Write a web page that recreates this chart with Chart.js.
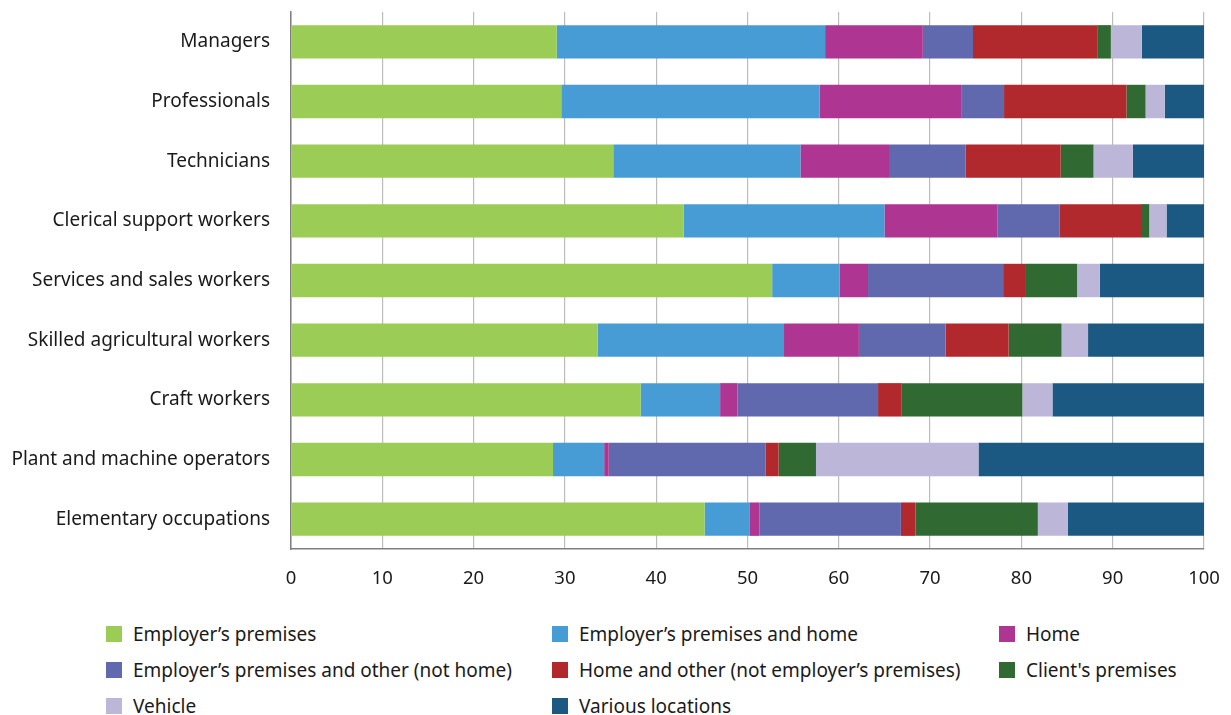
<!DOCTYPE html>
<html>
<head>
<meta charset="utf-8">
<script src="https://cdn.jsdelivr.net/npm/chart.js@4"></script>
<style>
    body { margin: 0; background: #fff; font-family: 'Noto Sans', sans-serif; }
    #wrap { position: relative; width: 1231px; height: 715px; }
    #chart-box { position: absolute; left: 0; top: 0; width: 1231px; height: 600px; }
    .legend-item { position: absolute; font-size: 19px; color: #1a1a1a; white-space: nowrap; line-height: 22px; }
    .legend-item span.box { position: absolute; left: 0; top: 3px; width: 16px; height: 16px; }
    .legend-item span.txt { position: absolute; left: 27px; top: 0; }
</style>
</head>
<body>
<div id="wrap">
    <div id="chart-box"><canvas id="work-location"></canvas></div>
    <div id="legend"></div>
</div>
<script>
const occupations = ['Managers', 'Professionals', 'Technicians', 'Clerical support workers',
    'Services and sales workers', 'Skilled agricultural workers', 'Craft workers',
    'Plant and machine operators', 'Elementary occupations'];

const seriesNames = ['Employer\u2019s premises', 'Employer\u2019s premises and home', 'Home',
    'Employer\u2019s premises and other (not home)', 'Home and other (not employer\u2019s premises)',
    "Client's premises", 'Vehicle', 'Various locations'];

const employersPremises = [29.1, 29.6, 35.3, 43.0, 52.7, 33.6, 38.3, 28.7, 45.3];
const employersAndHome  = [29.4, 28.3, 20.5, 22.0, 7.4, 20.4, 8.7, 5.6, 4.9];
const home              = [10.7, 15.5, 9.7, 12.4, 3.1, 8.2, 1.9, 0.5, 1.1];
const employersAndOther = [5.5, 4.7, 8.4, 6.8, 14.8, 9.5, 15.4, 17.2, 15.5];
const homeAndOther      = [13.6, 13.4, 10.4, 8.9, 2.5, 6.9, 2.6, 1.4, 1.6];
const clientsPremises   = [1.5, 2.1, 3.6, 0.9, 5.6, 5.8, 13.2, 4.1, 13.4];
const vehicle           = [3.4, 2.1, 4.3, 1.9, 2.5, 2.9, 3.3, 17.8, 3.3];
const variousLocations  = [6.8, 4.3, 7.8, 4.1, 11.4, 12.7, 16.6, 24.7, 14.9];

const xTicks = [0, 10, 20, 30, 40, 50, 60, 70, 80, 90, 100];

const seriesValues = [employersPremises, employersAndHome, home, employersAndOther,
    homeAndOther, clientsPremises, vehicle, variousLocations];
const colours = ['#9BCC55', '#479CD5', '#AE3592', '#6068AE', '#B1282D', '#316932', '#BCB6D8', '#1B5882'];

const canvas = document.getElementById('work-location');

function buildDatasets(){
    return seriesNames.map((name, i) => ({
        label: name,
        data: seriesValues[i],
        backgroundColor: colours[i],
        borderWidth: 0,
        categoryPercentage: 1,
        barPercentage: 0.56
    }));
}

function buildLegend(){
    // three fixed columns, like the original
    const colX = [106, 552, 999];
    const rowY = [623, 659, 695];
    const legend = document.getElementById('legend');
    seriesNames.forEach((name, i) => {
        const item = document.createElement('div');
        item.className = 'legend-item';
        item.style.left = colX[i % 3] + 'px';
        item.style.top = rowY[Math.floor(i / 3)] + 'px';
        item.innerHTML = '<span class="box" style="background:' + colours[i] + '"></span><span class="txt"></span>';
        item.querySelector('.txt').textContent = name;
        legend.appendChild(item);
    });
}

new Chart(canvas, {
    type: 'bar',
    data: {
        labels: occupations,
        datasets: buildDatasets()
    },
    options: {
        indexAxis: 'y',
        responsive: true,
        maintainAspectRatio: false,
        animation: false,
        layout: { padding: { top: 12, right: 27, bottom: 0, left: 0 } },
        plugins: {
            legend: { display: false },
            tooltip: { enabled: false }
        },
        scales: {
            x: {
                stacked: true,
                min: 0,
                max: 100,
                afterBuildTicks: scale => { scale.ticks = xTicks.map(v => ({ value: v })); },
                afterFit: scale => {
                    scale.height = 51;
                    scale.paddingLeft = 0;
                    scale.paddingRight = 0;
                },
                grid: { color: '#BDBDBD', lineWidth: 1.2, drawTicks: false },
                border: { color: '#7F7F7F', width: 1.5 },
                ticks: {
                    padding: 19,
                    color: '#1a1a1a',
                    font: { family: 'Noto Sans', size: 18.5 }
                }
            },
            y: {
                stacked: true,
                afterFit: scale => {
                    scale.width = 291;
                    scale.paddingTop = 0;
                    scale.paddingBottom = 0;
                },
                grid: { display: false, drawTicks: false },
                border: { color: '#7F7F7F', width: 1.5 },
                ticks: {
                    padding: 21,
                    color: '#1a1a1a',
                    font: { family: 'Noto Sans', size: 19 }
                }
            }
        }
    }
});

buildLegend();
</script>
</body>
</html>
